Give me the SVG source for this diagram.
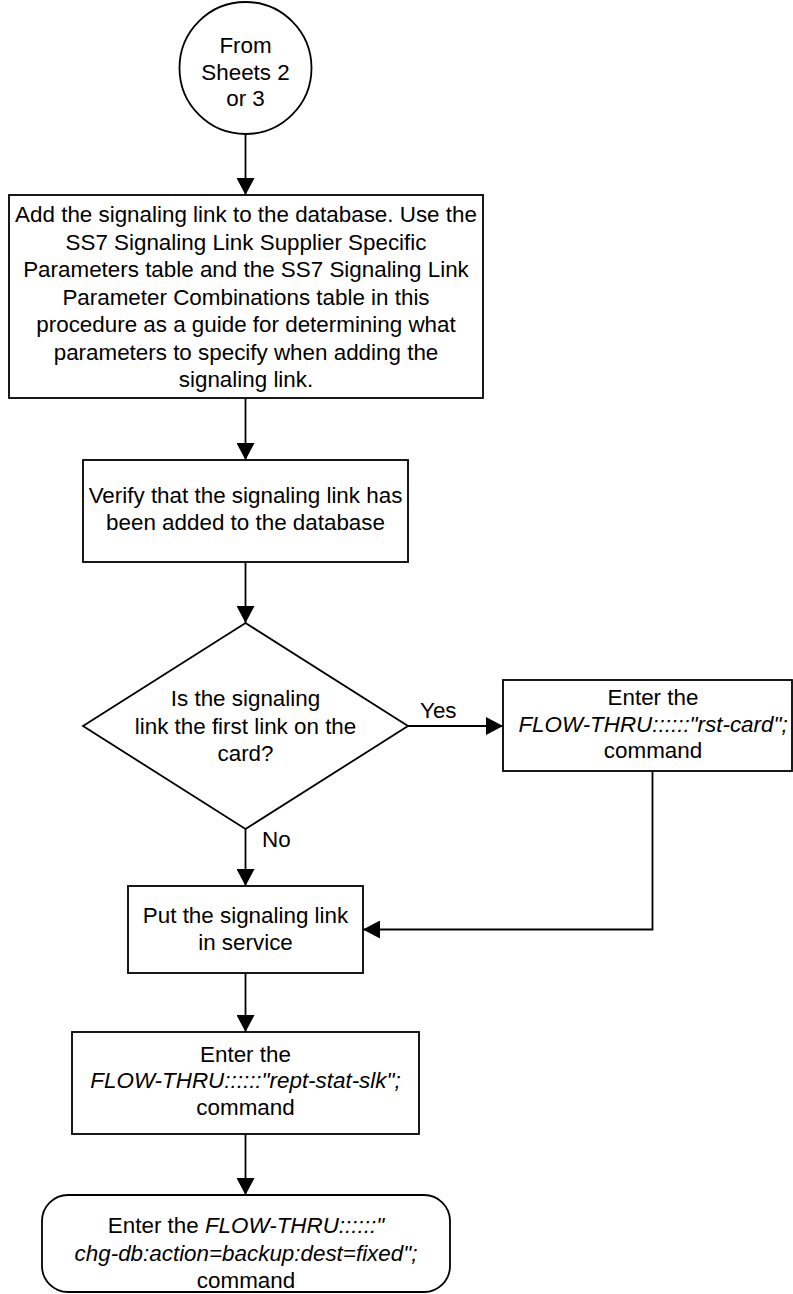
<svg xmlns="http://www.w3.org/2000/svg" width="793" height="1294" viewBox="0 0 793 1294">
<defs>
<marker id="ah" viewBox="0 0 17 18" refX="17" refY="9" markerWidth="17" markerHeight="18" markerUnits="userSpaceOnUse" orient="auto">
<path d="M0,0 L17,9 L0,18 z" fill="#000"/>
</marker>
<style>
.s{fill:#fff;stroke:#000;stroke-width:1.8}
.c{fill:none;stroke:#000;stroke-width:1.8}
text{font-family:"Liberation Sans",Arial,sans-serif;font-size:22.4px;fill:#000}
.m{text-anchor:middle}
.i{font-style:italic}
</style>
</defs>
<rect width="793" height="1294" fill="#fff"/>
<g id="connectors">
<line class="c" x1="245.5" y1="134" x2="245.5" y2="195" marker-end="url(#ah)"/>
<line class="c" x1="245.5" y1="398" x2="245.5" y2="460" marker-end="url(#ah)"/>
<line class="c" x1="245.5" y1="562" x2="245.5" y2="623" marker-end="url(#ah)"/>
<line class="c" x1="408" y1="726" x2="503" y2="726" marker-end="url(#ah)"/>
<line class="c" x1="245.5" y1="829" x2="245.5" y2="886" marker-end="url(#ah)"/>
<polyline class="c" points="652.5,771 652.5,929.5 363,929.5" marker-end="url(#ah)"/>
<line class="c" x1="245.5" y1="973" x2="245.5" y2="1032" marker-end="url(#ah)"/>
<line class="c" x1="245.5" y1="1134" x2="245.5" y2="1195" marker-end="url(#ah)"/>
<text x="420" y="718">Yes</text>
<text x="262" y="847">No</text>
</g>
<g id="start">
<circle class="s" cx="245.5" cy="68" r="66"/>
<text class="m" x="245.5" y="53">From</text>
<text class="m" x="245.5" y="79.5">Sheets 2</text>
<text class="m" x="245.5" y="106">or 3</text>
</g>
<g id="add">
<rect class="s" x="9" y="195" width="474" height="203"/>
<text class="m" x="246" y="222">Add the signaling link to the database. Use the</text>
<text class="m" x="246" y="249.5">SS7 Signaling Link Supplier Specific</text>
<text class="m" x="246" y="277">Parameters table and the SS7 Signaling Link</text>
<text class="m" x="246" y="304.5">Parameter Combinations table in this</text>
<text class="m" x="246" y="332">procedure as a guide for determining what</text>
<text class="m" x="246" y="359.5">parameters to specify when adding the</text>
<text class="m" x="246" y="387">signaling link.</text>
</g>
<g id="verify">
<rect class="s" x="83" y="460" width="325" height="102"/>
<text class="m" x="245.5" y="503">Verify that the signaling link has</text>
<text class="m" x="245.5" y="530">been added to the database</text>
</g>
<g id="decision">
<polygon class="s" points="245.5,623 408,726 245.5,829 83,726"/>
<text class="m" x="245.5" y="706">Is the signaling</text>
<text class="m" x="245.5" y="733.5">link the first link on the</text>
<text class="m" x="245.5" y="761">card?</text>
</g>
<g id="rstcard">
<rect class="s" x="503" y="680" width="289" height="91"/>
<text class="m" x="653" y="705">Enter the</text>
<text class="m i" x="653" y="731.5">FLOW-THRU::::::"rst-card";</text>
<text class="m" x="653" y="758">command</text>
</g>
<g id="inservice">
<rect class="s" x="128" y="886" width="235" height="87"/>
<text class="m" x="245.5" y="922.5">Put the signaling link</text>
<text class="m" x="245.5" y="949.5">in service</text>
</g>
<g id="reptstat">
<rect class="s" x="72" y="1032" width="347" height="102"/>
<text class="m" x="245.5" y="1061.5">Enter the</text>
<text class="m i" x="245.5" y="1088">FLOW-THRU::::::"rept-stat-slk";</text>
<text class="m" x="245.5" y="1115">command</text>
</g>
<g id="chgdb">
<rect class="s" x="42" y="1195" width="408" height="97" rx="26" ry="26"/>
<text class="m" x="246" y="1233"><tspan>Enter the </tspan><tspan class="i">FLOW-THRU::::::"</tspan></text>
<text class="m i" x="246" y="1261">chg-db:action=backup:dest=fixed";</text>
<text class="m" x="246" y="1288">command</text>
</g>
</svg>
